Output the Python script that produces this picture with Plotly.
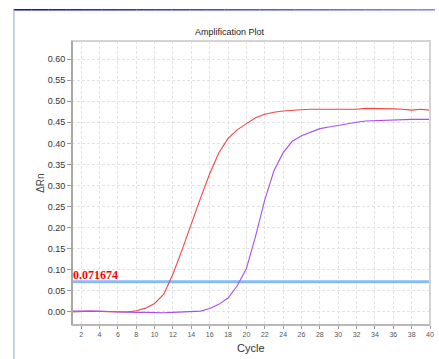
import plotly.graph_objects as go

cycles = list(range(1, 41))
red_values = [0.000, 0.001, 0.002, 0.001, 0.000, 0.000, 0.000, 0.003, 0.009, 0.020,
              0.042, 0.090, 0.148, 0.210, 0.270, 0.328, 0.378, 0.412, 0.432, 0.447,
              0.461, 0.469, 0.474, 0.477, 0.479, 0.480, 0.481, 0.481, 0.481, 0.481,
              0.481, 0.481, 0.483, 0.483, 0.483, 0.482, 0.481, 0.479, 0.481, 0.479]
purple_values = [0.002, 0.002, 0.003, 0.002, 0.001, 0.000, 0.000, -0.001, -0.001, -0.002,
                 -0.002, -0.001, 0.000, 0.001, 0.002, 0.008, 0.018, 0.033, 0.062, 0.103,
                 0.180, 0.266, 0.335, 0.378, 0.405, 0.418, 0.427, 0.435, 0.439, 0.443,
                 0.447, 0.450, 0.453, 0.454, 0.455, 0.456, 0.456, 0.457, 0.457, 0.457]
threshold = 0.071674
x_ticks = list(range(2, 41, 2))
y_ticks = [0.00, 0.05, 0.10, 0.15, 0.20, 0.25, 0.30, 0.35, 0.40, 0.45, 0.50, 0.55, 0.60]

W, H = 439, 359
L, R, T, B = 72, 5, 41, 34
pw, ph = W - L - R, H - T - B

def px(x):
    return (x - L) / pw

def py(y):
    return (H - B - y) / ph

fig = go.Figure()
fig.add_trace(go.Scatter(x=[cycles[0], cycles[-1]], y=[threshold, threshold], mode="lines",
                         line=dict(color="#86bcf5", width=3), hoverinfo="skip"))
fig.add_trace(go.Scatter(x=cycles, y=red_values, mode="lines",
                         line=dict(color="#f04646", width=1.1)))
fig.add_trace(go.Scatter(x=cycles, y=purple_values, mode="lines",
                         line=dict(color="#a550f5", width=1.1)))

shapes = []
# window frame: top gradient line and left line
n = 24
x0p, x1p = 13, 439
c0 = (10, 10, 170)
c1 = (130, 130, 235)
for i in range(n):
    a = x0p + (x1p - x0p) * i / n
    b = x0p + (x1p - x0p) * (i + 1) / n
    t = (i + 0.5) / n
    col = "rgb(%d,%d,%d)" % tuple(int(c0[k] + (c1[k] - c0[k]) * t) for k in range(3))
    shapes.append(dict(type="line", xref="paper", yref="paper", x0=px(a), x1=px(b),
                       y0=py(9.8), y1=py(9.8), line=dict(color=col, width=1.5)))
shapes.append(dict(type="line", xref="paper", yref="paper", x0=px(13.3), x1=px(13.3),
                   y0=py(10), y1=py(359), line=dict(color="#a9b2cc", width=1.2)))
# plot box
shapes.append(dict(type="rect", xref="paper", yref="paper", x0=0, x1=1, y0=0, y1=1,
                   line=dict(color="#d4d4d4", width=2), layer="above"))
shapes.append(dict(type="line", xref="paper", yref="paper", x0=0, x1=0, y0=0, y1=1,
                   line=dict(color="#a8a8a8", width=2), layer="above"))
shapes.append(dict(type="line", xref="paper", yref="paper", x0=0, x1=1, y0=0, y1=0,
                   line=dict(color="#b8b8b8", width=2), layer="above"))

annotations = [
    dict(text="Amplification Plot", xref="paper", yref="paper", x=px(232), y=py(31.5),
         xanchor="center", yanchor="middle", showarrow=False,
         font=dict(family="Liberation Sans, Arial", size=9, color="#222")),
    dict(text="<b>0.071674</b>", xref="x", yref="y", x=1, y=threshold, xanchor="left",
         yanchor="bottom", showarrow=False, xshift=-1, yshift=-2,
         font=dict(family="Liberation Serif, Times New Roman", size=12, color="#ff0000")),
    dict(text="Cycle", xref="paper", yref="paper", x=0.5, y=py(348), xanchor="center",
         yanchor="middle", showarrow=False,
         font=dict(family="Liberation Sans, Arial", size=11, color="#333")),
    dict(text="ΔRn", xref="paper", yref="paper", x=px(39.5), y=0.5, xanchor="center",
         yanchor="middle", showarrow=False, textangle=-90,
         font=dict(family="Liberation Sans, Arial", size=10, color="#444")),
]

fig.update_layout(
    width=W, height=H, margin=dict(l=L, r=R, t=T, b=B, pad=0),
    paper_bgcolor="white", plot_bgcolor="white", showlegend=False,
    shapes=shapes, annotations=annotations,
    font=dict(family="Liberation Sans, Arial", color="#333"),
)
fig.update_xaxes(range=[1, 40], tickvals=x_ticks, ticktext=[str(v) for v in x_ticks],
                 ticks="outside", ticklen=3, tickcolor="#999", tickfont=dict(size=7, color="#555"),
                 showgrid=True, gridcolor="#e3e3e3", griddash="3px,2px", gridwidth=1,
                 zeroline=False, showline=False)
fig.update_yaxes(range=[-0.031, 0.643], tickvals=y_ticks, ticktext=["%.2f" % v for v in y_ticks],
                 ticks="outside", ticklen=4, tickcolor="#999", tickfont=dict(size=9, color="#333"),
                 showgrid=True, gridcolor="#e3e3e3", griddash="3px,2px", gridwidth=1,
                 zeroline=False, showline=False)

fig.write_html("out.html", config={"displayModeBar": False},
               post_script="document.body.style.margin='0';document.body.style.overflow='hidden';")
